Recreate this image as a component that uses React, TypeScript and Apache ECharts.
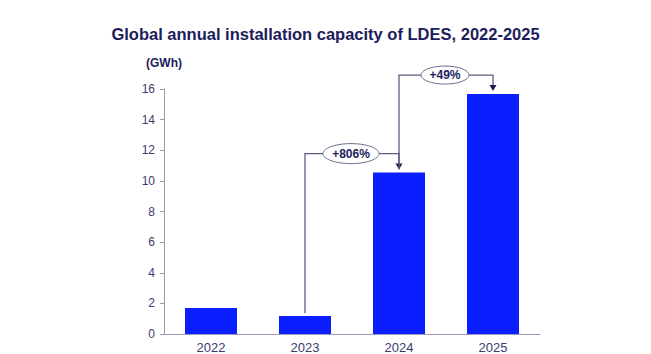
import React, { useEffect, useRef } from "react";
import * as echarts from "echarts";

const years = ["2022", "2023", "2024", "2025"];
const capacity = [1.69, 1.17, 10.54, 15.67];
const growthLabels = ["+806%", "+49%"];
const growthFrom = [1, 2]; // index of starting year
const growthTo = [2, 3]; // index of ending year
const yTicks = { min: 0, max: 16, interval: 2 };

const FONT = "'Liberation Sans', Arial, sans-serif";
const NAVY = "#1c1c5c";
const LINE = "#5c5c80";
const BAR = "#0a1eff";

export default function App() {
  const ref = useRef<HTMLDivElement>(null);
  useEffect(() => {
    if (!ref.current) return;
    const chart = echarts.init(ref.current, null, { renderer: "svg" });
    chart.setOption({
      animation: false,
      backgroundColor: "#ffffff",
      title: {
        text: "Global annual installation capacity of LDES, 2022-2025",
        left: "center",
        top: 20,
        textStyle: { fontFamily: FONT, fontSize: 16.5, fontWeight: "bold", color: NAVY },
      },
      grid: { left: 164, right: 111, top: 89, bottom: 19 },
      xAxis: {
        type: "category",
        data: years,
        axisLine: { lineStyle: { color: "#9a9ab4", width: 1 } },
        axisTick: { show: false },
        axisLabel: { fontFamily: FONT, fontSize: 13, color: "#3c3c6c", margin: 7 },
      },
      yAxis: {
        type: "value",
        min: yTicks.min,
        max: yTicks.max,
        interval: yTicks.interval,
        name: "(GWh)",
        nameLocation: "end",
        nameGap: 20,
        nameTextStyle: {
          fontFamily: FONT,
          fontSize: 12,
          fontWeight: "bold",
          color: NAVY,
          align: "center",
          padding: [0, 0, 0, 0],
        },
        axisLine: { show: true, lineStyle: { color: "#9a9ab4", width: 1 } },
        axisTick: { show: true, length: 4, lineStyle: { color: "#9a9ab4" } },
        splitLine: { show: false },
        axisLabel: { fontFamily: FONT, fontSize: 12, color: "#3c3c6c", margin: 9 },
      },
      series: [
        {
          type: "bar",
          data: capacity,
          barWidth: 52,
          itemStyle: { color: BAR },
        },
      ],
    });

    const px = (i: number, v: number) =>
      chart.convertToPixel({ xAxisIndex: 0, yAxisIndex: 0 }, [i, v]) as number[];

    const graphics: any[] = [];
    growthLabels.forEach((label, k) => {
      const a = growthFrom[k];
      const b = growthTo[k];
      const pa = px(a, capacity[a]);
      const pb = px(b, capacity[b]);
      const yTop = Math.min(pa[1], pb[1]) - 19;
      const xa = pa[0];
      const xb = pb[0];
      const startY = pa[1] - 3;
      const endY = pb[1] - 3;
      const ew = label.length > 4 ? 28 : 24;
      const eh = label.length > 4 ? 10 : 9;
      const cx = (xa + xb) / 2 - 1;
      graphics.push({
        type: "polyline",
        shape: { points: [[xa, startY], [xa, yTop], [cx - ew, yTop]] },
        style: { stroke: LINE, lineWidth: 1.3, fill: null },
        z: 10,
      });
      graphics.push({
        type: "polyline",
        shape: { points: [[cx + ew, yTop], [xb, yTop], [xb, endY - 5]] },
        style: { stroke: LINE, lineWidth: 1.3, fill: null },
        z: 10,
      });
      graphics.push({
        type: "polygon",
        shape: { points: [[xb - 3.5, endY - 6], [xb + 3.5, endY - 6], [xb, endY]] },
        style: { fill: "#1c1c4c" },
        z: 10,
      });
      graphics.push({
        type: "ellipse",
        shape: { cx, cy: yTop, rx: ew, ry: eh },
        style: { fill: "#ffffff", stroke: "#6c6c90", lineWidth: 1 },
        z: 11,
      });
      graphics.push({
        type: "text",
        x: cx,
        y: yTop,
        style: {
          text: label,
          fontFamily: FONT,
          fontSize: 12,
          fontWeight: "bold",
          fill: NAVY,
          align: "center",
          verticalAlign: "middle",
        },
        z: 12,
      });
    });
    chart.setOption({ graphic: graphics });

    return () => chart.dispose();
  }, []);
  return (
    <div
      ref={ref}
      style={{ position: "absolute", left: 0, top: 0, width: 651, height: 354 }}
    />
  );
}
